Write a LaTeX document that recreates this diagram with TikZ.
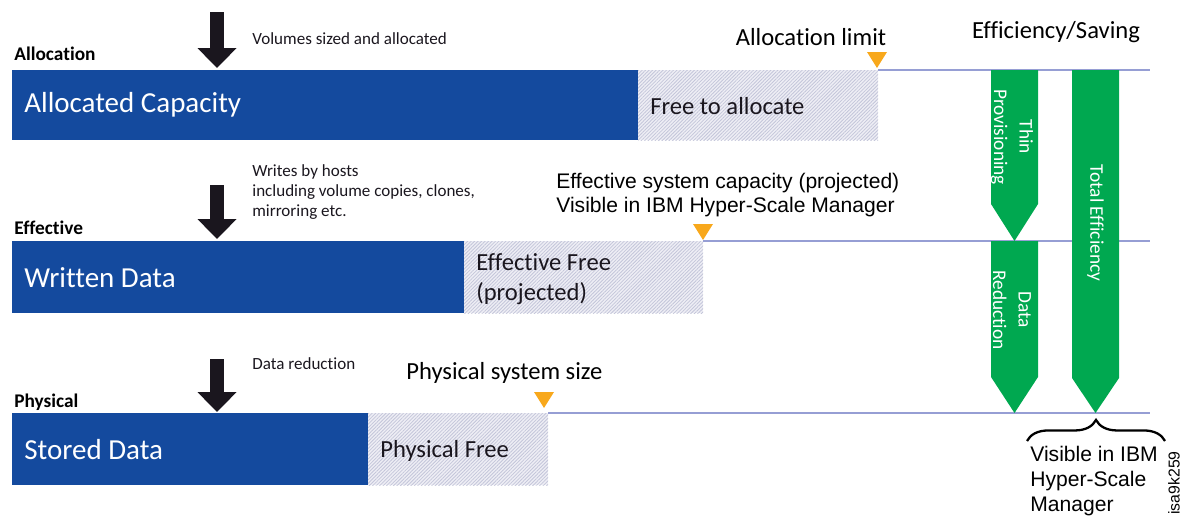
\documentclass[tikz,border=0pt]{standalone}
\usepackage{fontspec}
\setmainfont{Carlito}[Ligatures=NoCommon]
\newfontfamily\arialfont{Liberation Sans}
\usetikzlibrary{arrows.meta,patterns.meta,decorations.pathreplacing}

\definecolor{barblue}{RGB}{20,74,158}
\definecolor{savegreen}{RGB}{0,168,80}
\definecolor{limitorange}{RGB}{248,168,28}
\definecolor{levelline}{RGB}{150,158,212}
\definecolor{hatchgray}{RGB}{196,198,218}
\definecolor{hatchback}{RGB}{238,238,245}
\definecolor{inkblack}{RGB}{26,22,30}

\tikzset{
  usedbar/.style={fill=barblue},
  freebar/.style={preaction={fill=hatchback},
    pattern={Lines[angle=45,distance=1.4pt,line width=0.45pt]}, pattern color=hatchgray},
  levelrule/.style={draw=levelline, line width=0.7pt},
  limitmark/.style={fill=limitorange},
  flowarrow/.style={line width=8.5pt, inkblack, -{Triangle[length=11.3pt,width=21.5pt]}},
  savearrow/.style={fill=savegreen},
  barlabel/.style={anchor=west, text=white, inner sep=0pt, font=\fontsize{16.5}{19}\selectfont},
  freelabel/.style={anchor=west, text=inkblack, inner sep=0pt, align=left, font=\fontsize{14}{17}\selectfont},
  levelname/.style={anchor=west, text=black, inner sep=0pt, font=\bfseries\fontsize{11}{13}\selectfont},
  note/.style={anchor=west, text=inkblack, inner sep=0pt, align=left, font=\fontsize{9.7}{11.6}\selectfont},
  limitlabel/.style={text=black, inner sep=0pt, font=\fontsize{14}{17}\selectfont},
  greenlabel/.style={text=white, rotate=-90, align=center, inner sep=0pt, font=\fontsize{11}{14.5}\selectfont},
}

\begin{document}
\begin{tikzpicture}[x=0.02cm,y=-0.02cm]
  \useasboundingbox (0,0) rectangle (1182,521);

  % level rules
  \draw[levelrule] (878,70) -- (1150,70);
  \draw[levelrule] (703,241) -- (1150,241);
  \draw[levelrule] (548,413) -- (1150,413);

  % capacity bars
  \fill[usedbar] (12,70) rectangle (638,140);
  \fill[freebar] (638,70) rectangle (878,140);
  \fill[usedbar] (12,241) rectangle (464,313);
  \fill[freebar] (464,241) rectangle (703,313);
  \fill[usedbar] (12,413) rectangle (368,485);
  \fill[freebar] (368,413) rectangle (548,485);

  \node[barlabel] (allocated) at (24,105) {Allocated Capacity};
  \node[freelabel] (freealloc) at (650,106) {Free to allocate};
  \node[barlabel] (written) at (24,278) {Written Data};
  \node[freelabel] (efffree) at (476,279) {Effective Free\\(projected)};
  \node[barlabel] (stored) at (24,450) {Stored Data};
  \node[freelabel] (physfree) at (380,451) {Physical Free};

  % level names
  \node[levelname] (lvalloc) at (14,54) {Allocation};
  \node[levelname] (lveff) at (14,228) {Effective};
  \node[levelname] (lvphys) at (14,402) {Physical};

  % flow arrows
  \coordinate (in1) at (217,12);
  \coordinate (in1tip) at (217,68);
  \coordinate (in2) at (217,185);
  \coordinate (in2tip) at (217,239);
  \coordinate (in3) at (217,359);
  \coordinate (in3tip) at (217,412);
  \draw[flowarrow] (in1) -- (in1tip);
  \draw[flowarrow] (in2) -- (in2tip);
  \draw[flowarrow] (in3) -- (in3tip);

  \node[note] (volnote) at (252,39) {Volumes sized and allocated};
  \node[note] (writenote) at (252,192) {Writes by hosts\\including volume copies, clones,\\mirroring etc.};
  \node[note] (rednote) at (252,364) {Data reduction};

  % limit markers
  \fill[limitmark] (867,52) -- (887,52) -- (877,68) -- cycle;
  \fill[limitmark] (693,224) -- (713,224) -- (703,240) -- cycle;
  \fill[limitmark] (534,392) -- (554,392) -- (544,408) -- cycle;

  \node[limitlabel] (alloclimit) at (811,37) {Allocation limit};
  \node[limitlabel, anchor=west, align=left, font=\arialfont\fontsize{12}{13.2}\selectfont] (effcap) at (556,195)
    {Effective system capacity (projected)\\Visible in IBM Hyper-Scale Manager};
  \node[limitlabel, anchor=west] (physsize) at (406,373) {Physical system size};

  % efficiency / saving
  \node[limitlabel] (savetitle) at (1056,32) {Efficiency/Saving};
  \fill[savearrow] (991,70) -- (1038,70) -- (1038,204) -- (1014.5,241) -- (991,204) -- cycle;
  \fill[savearrow] (991,241) -- (1038,241) -- (1038,377) -- (1014.5,413) -- (991,377) -- cycle;
  \fill[savearrow] (1072,70) -- (1119,70) -- (1119,378) -- (1095.5,413) -- (1072,378) -- cycle;
  \node[greenlabel] (thin) at (1012,137) {Thin\\Provisioning};
  \node[greenlabel] (datared) at (1012,310) {Data\\Reduction};
  \node[greenlabel] (total) at (1095.5,223) {Total Efficiency};

  \coordinate (brl) at (1027,441);
  \coordinate (brr) at (1165,441);
  \draw[line width=1.3pt, black, decorate, decoration={brace, amplitude=12pt}] (brl) -- (brr);
  \node[anchor=west, inner sep=0pt, align=left, text=black, font=\arialfont\fontsize{12}{14}\selectfont] (hsm) at (1030,481)
    {Visible in IBM\\Hyper-Scale\\Manager};
  \node[rotate=90, inner sep=0pt, text=black, font=\arialfont\fontsize{9}{10}\selectfont] (figid) at (1174,483) {isa9k259};
\end{tikzpicture}
\end{document}
